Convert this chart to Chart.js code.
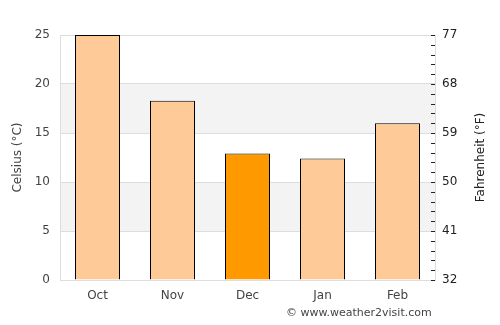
<!DOCTYPE html>
<html>
<head>
<meta charset="utf-8">
<script src="https://cdn.jsdelivr.net/npm/chart.js@4.4.0/dist/chart.umd.min.js"></script>
<style>
  html, body { margin: 0; padding: 0; background: #fff; }
  #wrap { position: relative; width: 500px; height: 325px; }
  #credit { position: absolute; left: 286px; top: 306px; font: 11px "DejaVu Sans", sans-serif; color: #444; white-space: nowrap; }
</style>
</head>
<body>
<div id="wrap">
  <canvas id="c" width="500" height="325"></canvas>
  <div id="credit">© www.weather2visit.com</div>
</div>
<script>
const months = ["Oct", "Nov", "Dec", "Jan", "Feb"];
const tempsC = [25, 18.3, 12.9, 12.4, 16.0];
const barColors = ["#fecb98", "#fecb98", "#ff9900", "#fecb98", "#fecb98"];
const celsiusTicks = [0, 5, 10, 15, 20, 25];
const fahrenheitTicks = [32, 41, 50, 59, 68, 77];
const bandRanges = [[5, 10], [15, 20]];
const rightTitle = 'Fahrenheit (°F)';

const font = { family: "'DejaVu Sans', sans-serif", size: 12 };

const bandsPlugin = {
  id: 'bands',
  beforeDraw(chart) {
    const { ctx, chartArea, scales } = chart;
    ctx.save();
    ctx.fillStyle = '#f3f3f3';
    bandRanges.forEach(([a, b]) => {
      const y1 = scales.y.getPixelForValue(b);
      const y2 = scales.y.getPixelForValue(a);
      ctx.fillRect(chartArea.left, y1, chartArea.right - chartArea.left, y2 - y1);
    });
    ctx.restore();
  }
};

const minorTicksPlugin = {
  id: 'minorTicks',
  afterDraw(chart) {
    const { ctx, chartArea, scales } = chart;
    ctx.save();
    ctx.strokeStyle = '#222';
    ctx.lineWidth = 1;
    for (let v = 0; v <= 25; v++) {
      const y = Math.round(scales.y.getPixelForValue(v)) + 0.5;
      ctx.beginPath();
      ctx.moveTo(chartArea.right - 4, y);
      ctx.lineTo(chartArea.right, y);
      ctx.stroke();
    }
    // right axis title, reading bottom-to-top
    ctx.fillStyle = '#222';
    ctx.font = "12px 'DejaVu Sans', sans-serif";
    ctx.textAlign = 'center';
    ctx.textBaseline = 'middle';
    ctx.translate(481, (chartArea.top + chartArea.bottom) / 2);
    ctx.rotate(-Math.PI / 2);
    ctx.fillText(rightTitle, 0, 0);
    ctx.restore();
  }
};

new Chart(document.getElementById('c'), {
  type: 'bar',
  data: {
    labels: months,
    datasets: [{
      data: tempsC,
      backgroundColor: barColors,
      borderColor: '#000',
      borderWidth: 1,
      borderSkipped: 'bottom',
      categoryPercentage: 1.0,
      barPercentage: 0.6
    }]
  },
  options: {
    responsive: false,
    animation: false,
    layout: { padding: { top: 35, left: 0, right: 0, bottom: 0 } },
    plugins: { legend: { display: false }, tooltip: { enabled: false } },
    scales: {
      x: {
        grid: { display: false, drawTicks: false },
        border: { display: true, color: '#ddd' },
        ticks: { font, color: '#444', padding: 9 },
        afterFit(s) { s.height = 45; }
      },
      y: {
        position: 'left',
        min: 0, max: 25,
        afterBuildTicks(s) { s.ticks = celsiusTicks.map(v => ({ value: v })); },
        grid: { color: '#ddd', drawTicks: false },
        border: { display: true, color: '#ddd' },
        ticks: { font, color: '#444', padding: 10 },
        title: { display: true, text: 'Celsius (°C)', font, color: '#444', padding: { top: 11, bottom: 0 } },
        afterFit(s) { s.width = 60; }
      },
      yF: {
        position: 'right',
        min: 32, max: 77,
        afterBuildTicks(s) { s.ticks = fahrenheitTicks.map(v => ({ value: v })); },
        grid: { drawOnChartArea: false, drawTicks: false },
        border: { display: true, color: '#ddd' },
        ticks: { font, color: '#222', padding: 7 },
        afterFit(s) { s.width = 65; }
      }
    }
  },
  plugins: [bandsPlugin, minorTicksPlugin]
});
</script>
</body>
</html>
